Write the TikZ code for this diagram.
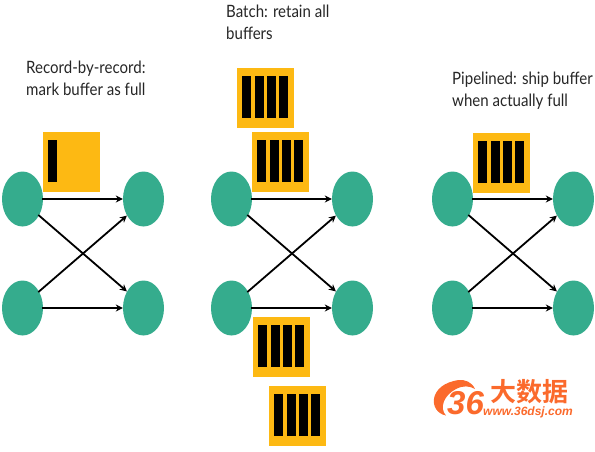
\documentclass[tikz,border=0pt]{standalone}
\usepackage{fontspec}
\setmainfont{Lato}[FakeStretch=0.885]
\newfontfamily\cjk{Noto Sans CJK SC}[BoldFont={* Bold}]
\newfontfamily\logofont{Liberation Sans}
\usetikzlibrary{shapes.geometric,arrows.meta}
\definecolor{teal1}{HTML}{35AC8D}
\definecolor{amber}{HTML}{FDB913}
\definecolor{logoor}{HTML}{FB6A2C}
\tikzset{
  x=1pt,y=-1pt,
  peer/.style={ellipse,fill=teal1,draw=none,minimum width=41pt,minimum height=55pt,inner sep=0pt},
  link/.style={draw=black,line width=1.8pt,-{Stealth[length=7pt,width=7pt]},shorten <=-1pt},
  buf/.style={fill=amber,draw=none,minimum width=57pt,minimum height=60pt,inner sep=0pt,anchor=north west},
  captxt/.style={anchor=north west,align=left,inner sep=0pt,font=\fontsize{17pt}{21.8pt}\selectfont,text=black!85},
  barx/.style={fill=black,draw=none,minimum width=9pt,minimum height=42pt,inner sep=0pt,anchor=north west}
}
\newcommand{\bars}[2]{%
  \foreach \k in {0,1,2,3}{\node[barx] at ({#1+5+12.3*\k},{#2+8}) {};}}
\begin{document}
\begin{tikzpicture}
\useasboundingbox (0,0) rectangle (595,451);
% captions
\node[captxt] (c1) at (26,60.5) {Record-by-record:\\mark buffer as full};
\node[captxt] (c2) at (226,5) {Batch: retain all\\buffers};
\node[captxt] (c3) at (452,72) {Pipelined: ship buffer\\when actually full};
% buffers
\node[buf] (b1) at (43,132) {};
\node[barx] (b1a) at (48,140) {};
\node[buf] (b2) at (237,68) {}; \bars{237}{68}
\node[buf] (b3) at (252,132) {}; \bars{252}{132}
\node[buf] (b4) at (253,317) {}; \bars{253}{317}
\node[buf] (b5) at (269,386) {}; \bars{269}{386}
\node[buf] (b6) at (473,133) {}; \bars{473}{133}
% peers and links
\foreach \n/\lx/\rx in {p/22.5/143.5,q/231.5/352.5,r/452.5/573.5}{
  \node[peer] (\n a) at (\lx,199) {};
  \node[peer] (\n b) at (\lx,308) {};
  \node[peer] (\n c) at (\rx,199) {};
  \node[peer] (\n d) at (\rx,308) {};
  \draw[link] (\n a) -- (\n c);
  \draw[link] (\n b) -- (\n d);
  \draw[link] (\n a.-45) -- (\n d.135);
  \draw[link] (\n b.45) -- (\n c.-135);
}
% logo
\fill[logoor] (446,415.5) .. controls (428,412) and (428,384) .. (459,380)
  .. controls (465,379.5) and (472,382) .. (475,389)
  .. controls (469,385.5) and (463,385.5) .. (456,389)
  .. controls (444,395) and (439,408) .. (446,415.5) -- cycle;
\node[anchor=west,inner sep=0pt,text=logoor] (l36) at (447,403)
  {\logofont\fontsize{33pt}{33pt}\selectfont\bfseries\itshape 36};
\node[anchor=west,inner sep=0pt,text=logoor] (lcn) at (490,392)
  {\cjk\fontsize{26pt}{26pt}\selectfont\bfseries 大数据};
\node[anchor=west,inner sep=0pt,text=logoor] (lurl) at (483,412)
  {\logofont\fontsize{12pt}{12pt}\selectfont\bfseries\itshape www.36dsj.com};
\end{tikzpicture}
\end{document}
